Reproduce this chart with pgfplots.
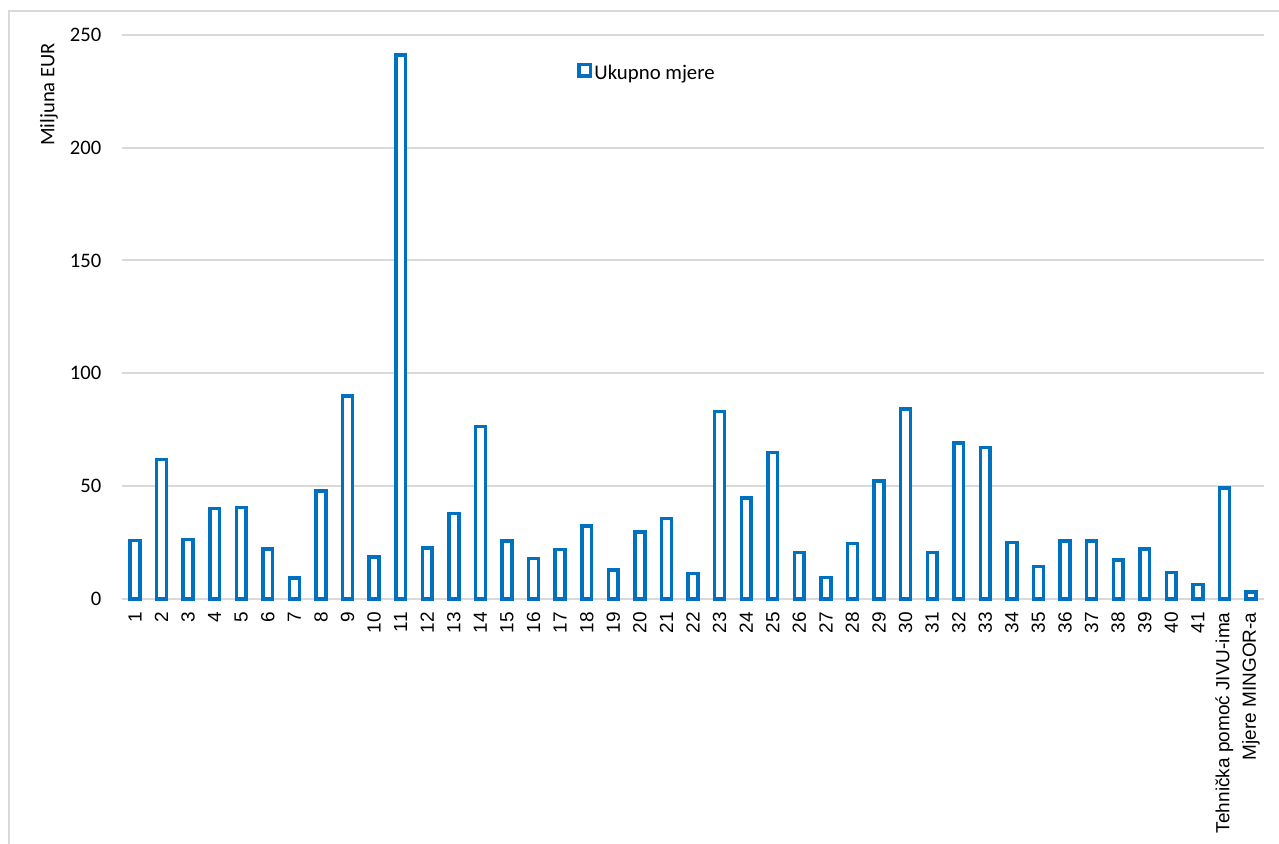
\documentclass[border=0pt]{standalone}
\usepackage{fontspec}
\setmainfont{Carlito}
\newfontfamily\arialf{Liberation Sans}
\usepackage{pgfplots}
\pgfplotsset{compat=1.18}
\definecolor{barblue}{HTML}{0070C0}
\definecolor{gridgray}{HTML}{D9D9D9}
\pgfplotstableread{
x y
0 25.9
1 61.8
2 26.3
3 40.1
4 40.6
5 22.2
6 9.3
7 47.8
8 90.0
9 18.6
10 241.1
11 22.6
12 38.0
13 76.4
14 25.6
15 17.9
16 21.9
17 32.4
18 12.8
19 29.8
20 35.6
21 11.4
22 83.0
23 44.7
24 65.0
25 20.5
26 9.5
27 24.7
28 52.2
29 84.3
30 20.7
31 69.2
32 67.1
33 25.1
34 14.5
35 25.8
36 25.8
37 17.3
38 22.1
39 11.7
40 6.5
41 49.1
42 3.0
}\mydata
\begin{document}
\begin{tikzpicture}
\useasboundingbox (0,0) rectangle (639.5pt,421.5pt);
\draw[gridgray, line width=0.6pt] (4.5pt,-2pt) -- (4.5pt,416pt) -- (645pt,416pt);
\begin{axis}[
  at={(60.85pt,122pt)}, anchor=south west,
  scale only axis, width=571.3pt, height=282.1pt,
  clip=false,
  ybar, bar width=4.9pt,
  xmin=-0.5, xmax=42.5, ymin=0, ymax=250,
  ytick={0,50,100,150,200,250},
  xtick={0,...,42},
  xticklabels={1,2,3,4,5,6,7,8,9,10,11,12,13,14,15,16,17,18,19,20,21,22,23,24,25,26,27,28,29,30,31,32,33,34,35,36,37,38,39,40,41,Tehnička pomoć JIVU-ima,Mjere MINGOR-a},
  axis line style={draw=none},
  major tick length=0pt,
  ymajorgrids,
  grid style={gridgray, line width=1pt},
  /pgf/number format/assume math mode=true,
  yticklabel style={font=\fontsize{10.3pt}{12pt}\selectfont, anchor=east, inner sep=0pt, xshift=-10pt},
  xticklabel style={font=\arialf\fontsize{9.5pt}{11pt}\selectfont, rotate=90, anchor=east, inner xsep=6.5pt, inner ysep=0pt},
  ylabel={Miljuna EUR},
  ylabel style={at={(axis description cs:-0.0636,0.986)}, anchor=east, inner sep=0pt, font=\fontsize{10.3pt}{12pt}\selectfont},
  legend style={at={(axis description cs:0.3985,0.951)}, anchor=north west, draw=none, fill=none, inner sep=0pt,
    font=\fontsize{10.4pt}{12pt}\selectfont, nodes={inner sep=1pt}},
  legend image code/.code={\draw[#1, line width=1.75pt] (0pt,-1.1pt) rectangle (5.75pt,4.65pt);},
]
\addplot[draw=barblue, fill=white, line width=1.75pt] table[x=x,y=y] {\mydata};
\addlegendentry{Ukupno mjere}
\end{axis}
\end{tikzpicture}
\end{document}
